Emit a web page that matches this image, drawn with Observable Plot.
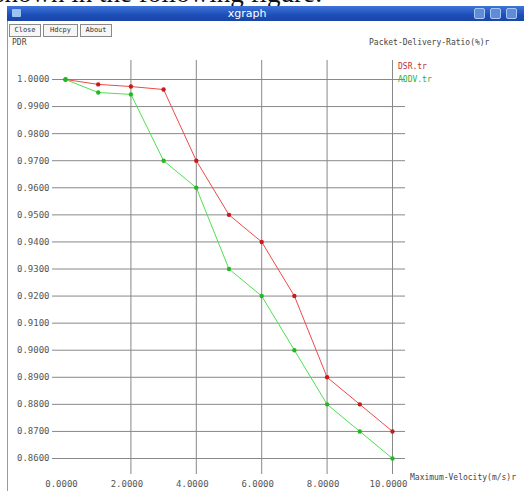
<!DOCTYPE html>
<html>
<head>
<meta charset="utf-8">
<script src="https://cdn.jsdelivr.net/npm/d3@7"></script>
<script src="https://cdn.jsdelivr.net/npm/@observablehq/plot@0.6"></script>
<style>
  html, body { margin: 0; padding: 0; }
  body { width: 524px; height: 491px; position: relative; overflow: hidden; background: #fff; font-family: "DejaVu Sans Mono", monospace; }
  .ov { position: absolute; z-index: 2; white-space: nowrap; }
  #doc { left: -6px; top: -22px; font: 27px "Liberation Serif", serif; color: #111; z-index: 1; }
  #titlebar { left: 7px; top: 6px; width: 517px; height: 15px; background: linear-gradient(#3f74d8, #1d4fb8 60%, #1a45a6); z-index: 1; }
  #titlebar .t { position: absolute; left: 0; width: 480px; text-align: center; top: 1px; color: #fff; font: 11px "DejaVu Sans", sans-serif; }
  #titlebar .ico { position: absolute; top: 3px; left: 5px; width: 9px; height: 8px; background: #9cc3f0; border-radius: 1px; }
  #titlebar .wb { position: absolute; top: 2px; width: 11px; height: 11px; background: #5f8cd8; border: 1px solid #a9c6f2; box-sizing: border-box; border-radius: 2px; }
  #leftborder { left: 7px; top: 21px; width: 1px; height: 470px; background: #9a9a9a; }
  .btn { top: 24px; height: 13px; border: 1px solid #8a8a8a; box-sizing: border-box; font-size: 7px; line-height: 11px; color: #333; text-align: center; background: #f6f6f6; }
  .lbl { font-size: 8px; color: #444; }
</style>
</head>
<body>
<div id="doc" class="ov">shown in the following figure:</div>
<div id="chart" style="position:absolute;left:0;top:0;z-index:0"></div>
<div id="titlebar" class="ov">
  <div class="ico"></div>
  <div class="t">xgraph</div>
  <div class="wb" style="left:467px"></div>
  <div class="wb" style="left:483px"></div>
  <div class="wb" style="left:499px"></div>
</div>
<div id="leftborder" class="ov"></div>
<div class="ov btn" style="left:9px;width:32px">Close</div>
<div class="ov btn" style="left:43px;width:35px">Hdcpy</div>
<div class="ov btn" style="left:80px;width:32px">About</div>
<div class="ov lbl" style="left:12px;top:38px">PDR</div>
<div class="ov lbl" style="left:369px;top:38px">Packet-Delivery-Ratio(%)r</div>
<div class="ov lbl" style="left:410px;top:473px">Maximum-Velocity(m/s)r</div>
<div class="ov lbl" style="left:398px;top:62px;color:#c03030">DSR.tr</div>
<div class="ov lbl" style="left:398px;top:75px;color:#30b030">AODV.tr</div>
<script>
// Data
const velocity = [0, 1, 2, 3, 4, 5, 6, 7, 8, 9, 10];
const dsr  = [1.0000, 0.9982, 0.9974, 0.9963, 0.9700, 0.9500, 0.9400, 0.9200, 0.8900, 0.8800, 0.8700];
const aodv = [1.0000, 0.9952, 0.9945, 0.9700, 0.9600, 0.9300, 0.9200, 0.9000, 0.8800, 0.8700, 0.8600];
const seriesNames = ["DSR.tr", "AODV.tr"];
const xTickLabels = [0, 2, 4, 6, 8, 10];
const xGridTicks = [2, 4, 6, 8, 10];
const yTickLabels = [1.00, 0.99, 0.98, 0.97, 0.96, 0.95, 0.94, 0.93, 0.92, 0.91, 0.90, 0.89, 0.88, 0.87, 0.86];

const dsrData = velocity.map((v, i) => ({x: v, y: dsr[i], s: seriesNames[0]}));
const aodvData = velocity.map((v, i) => ({x: v, y: aodv[i], s: seriesNames[1]}));

const fmt = d3.format(".4f");

const chart = Plot.plot({
  width: 524,
  height: 491,
  marginLeft: 52,
  marginRight: 119,
  marginTop: 60,
  marginBottom: 17,
  style: {fontFamily: "DejaVu Sans Mono, monospace", fontSize: "9px", color: "#555", background: "transparent", overflow: "visible"},
  x: {domain: [-0.398, 10.398], axis: null},
  y: {domain: [0.85409, 1.00702], axis: null},
  marks: [
    Plot.ruleY(yTickLabels, {stroke: "#888", strokeWidth: 1}),
    Plot.ruleX(xGridTicks, {stroke: "#888", strokeWidth: 1}),
    Plot.axisY({ticks: yTickLabels, tickSize: 0, tickPadding: 3, tickFormat: fmt, label: null, fill: "#555"}),
    Plot.axisX({ticks: xTickLabels, tickSize: 0, tickPadding: 6, tickFormat: fmt, label: null, fill: "#555", dx: -4}),
    Plot.line(dsrData, {x: "x", y: "y", stroke: "#ee4a4a", strokeWidth: 1}),
    Plot.dot(dsrData, {x: "x", y: "y", r: 2.2, fill: "#c81a1a"}),
    Plot.line(aodvData, {x: "x", y: "y", stroke: "#4ee04e", strokeWidth: 1}),
    Plot.dot(aodvData, {x: "x", y: "y", r: 2.2, fill: "#22b822"})
  ]
});
document.getElementById("chart").appendChild(chart);
</script>
</body>
</html>
